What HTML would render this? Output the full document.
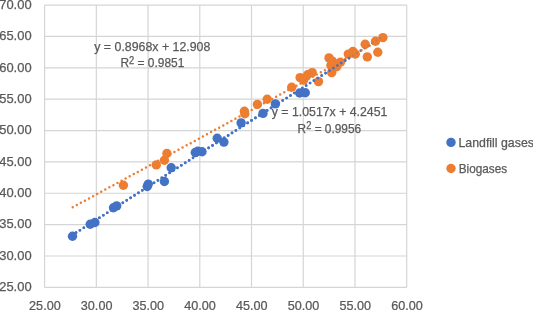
<!DOCTYPE html>
<html><head><meta charset="utf-8"><title>Chart</title>
<style>html,body{margin:0;padding:0;background:#fff;overflow:hidden}svg{display:block}text{font-family:"Liberation Sans",Arial,sans-serif;fill:#595959;stroke:#595959;stroke-width:0.25px}</style></head><body>
<svg width="533" height="310" viewBox="0 0 533 310">
<rect width="533" height="310" fill="#fff"/>
<g stroke="#d5d5d5" stroke-width="1.2" fill="none">
<line x1="44.60" y1="5.10" x2="44.60" y2="287.35"/>
<line x1="96.33" y1="5.10" x2="96.33" y2="287.35"/>
<line x1="148.06" y1="5.10" x2="148.06" y2="287.35"/>
<line x1="199.79" y1="5.10" x2="199.79" y2="287.35"/>
<line x1="251.51" y1="5.10" x2="251.51" y2="287.35"/>
<line x1="303.24" y1="5.10" x2="303.24" y2="287.35"/>
<line x1="354.97" y1="5.10" x2="354.97" y2="287.35"/>
<line x1="406.70" y1="5.10" x2="406.70" y2="287.35"/>
<line x1="44.60" y1="5.10" x2="406.70" y2="5.10"/>
<line x1="44.60" y1="36.46" x2="406.70" y2="36.46"/>
<line x1="44.60" y1="67.82" x2="406.70" y2="67.82"/>
<line x1="44.60" y1="99.18" x2="406.70" y2="99.18"/>
<line x1="44.60" y1="130.54" x2="406.70" y2="130.54"/>
<line x1="44.60" y1="161.91" x2="406.70" y2="161.91"/>
<line x1="44.60" y1="193.27" x2="406.70" y2="193.27"/>
<line x1="44.60" y1="224.63" x2="406.70" y2="224.63"/>
<line x1="44.60" y1="255.99" x2="406.70" y2="255.99"/>
<line x1="44.60" y1="287.35" x2="406.70" y2="287.35"/>
</g>
<g fill="#4472c4"><circle cx="72.5" cy="236.2" r="4.7"/><circle cx="90.2" cy="224.3" r="4.7"/><circle cx="94.9" cy="222.5" r="4.7"/><circle cx="113.5" cy="207.7" r="4.7"/><circle cx="116.7" cy="205.9" r="4.7"/><circle cx="147.2" cy="186.5" r="4.7"/><circle cx="148.3" cy="184.1" r="4.7"/><circle cx="164.4" cy="181.5" r="4.7"/><circle cx="171.2" cy="167.7" r="4.7"/><circle cx="195.3" cy="152.5" r="4.7"/><circle cx="197.8" cy="151.3" r="4.7"/><circle cx="202.0" cy="151.8" r="4.7"/><circle cx="217.2" cy="138.2" r="4.7"/><circle cx="223.9" cy="142.1" r="4.7"/><circle cx="241.1" cy="122.9" r="4.7"/><circle cx="263.0" cy="113.4" r="4.7"/><circle cx="275.4" cy="103.9" r="4.7"/><circle cx="299.7" cy="93.0" r="4.7"/><circle cx="305.3" cy="92.8" r="4.7"/></g>
<line x1="72.12" y1="235.22" x2="382.90" y2="36.41" stroke="#4472c4" stroke-width="2.7" stroke-linecap="round" stroke-dasharray="0 4.63"/>
<g fill="#ed7d31"><circle cx="123.4" cy="185.3" r="4.7"/><circle cx="156.3" cy="164.9" r="4.7"/><circle cx="164.4" cy="160.2" r="4.7"/><circle cx="166.9" cy="153.5" r="4.7"/><circle cx="244.4" cy="111.3" r="4.7"/><circle cx="244.8" cy="113.8" r="4.7"/><circle cx="257.4" cy="104.4" r="4.7"/><circle cx="267.2" cy="99.2" r="4.7"/><circle cx="291.7" cy="87.2" r="4.7"/><circle cx="300.1" cy="77.6" r="4.7"/><circle cx="303.6" cy="80.1" r="4.7"/><circle cx="307.7" cy="74.7" r="4.7"/><circle cx="312.2" cy="72.6" r="4.7"/><circle cx="318.5" cy="81.6" r="4.7"/><circle cx="329.0" cy="57.9" r="4.7"/><circle cx="332.5" cy="61.3" r="4.7"/><circle cx="330.9" cy="65.3" r="4.7"/><circle cx="331.7" cy="72.6" r="4.7"/><circle cx="336.7" cy="66.8" r="4.7"/><circle cx="340.4" cy="62.3" r="4.7"/><circle cx="348.3" cy="54.1" r="4.7"/><circle cx="352.9" cy="51.5" r="4.7"/><circle cx="355.3" cy="54.0" r="4.7"/><circle cx="365.2" cy="44.2" r="4.7"/><circle cx="367.3" cy="56.9" r="4.7"/><circle cx="375.5" cy="41.3" r="4.7"/><circle cx="377.8" cy="52.3" r="4.7"/><circle cx="382.9" cy="37.6" r="4.7"/></g>
<line x1="72.74" y1="207.27" x2="382.90" y2="38.64" stroke="#ed7d31" stroke-width="2.5" stroke-linecap="round" stroke-dasharray="0 4.63"/>
<clipPath id="c"><rect x="0" y="0" width="350" height="310"/></clipPath>
<line x1="72.12" y1="235.22" x2="382.90" y2="36.41" stroke="#4472c4" stroke-width="2.7" stroke-linecap="round" stroke-dasharray="0 4.63" clip-path="url(#c)"/>
<line x1="72.12" y1="235.22" x2="382.90" y2="36.41" stroke="#4472c4" stroke-width="2.7" stroke-linecap="round" stroke-dasharray="0 4.63" opacity="0.18"/>
<g font-size="12.8">
<text x="31.6" y="8.80" text-anchor="end" textLength="32.4" lengthAdjust="spacingAndGlyphs">70.00</text>
<text x="31.6" y="40.16" text-anchor="end" textLength="32.4" lengthAdjust="spacingAndGlyphs">65.00</text>
<text x="31.6" y="71.52" text-anchor="end" textLength="32.4" lengthAdjust="spacingAndGlyphs">60.00</text>
<text x="31.6" y="102.88" text-anchor="end" textLength="32.4" lengthAdjust="spacingAndGlyphs">55.00</text>
<text x="31.6" y="134.24" text-anchor="end" textLength="32.4" lengthAdjust="spacingAndGlyphs">50.00</text>
<text x="31.6" y="165.61" text-anchor="end" textLength="32.4" lengthAdjust="spacingAndGlyphs">45.00</text>
<text x="31.6" y="196.97" text-anchor="end" textLength="32.4" lengthAdjust="spacingAndGlyphs">40.00</text>
<text x="31.6" y="228.33" text-anchor="end" textLength="32.4" lengthAdjust="spacingAndGlyphs">35.00</text>
<text x="31.6" y="259.69" text-anchor="end" textLength="32.4" lengthAdjust="spacingAndGlyphs">30.00</text>
<text x="31.6" y="291.05" text-anchor="end" textLength="32.4" lengthAdjust="spacingAndGlyphs">25.00</text>
<text x="44.90" y="310.2" text-anchor="middle" textLength="31.6" lengthAdjust="spacingAndGlyphs">25.00</text>
<text x="96.63" y="310.2" text-anchor="middle" textLength="31.6" lengthAdjust="spacingAndGlyphs">30.00</text>
<text x="148.36" y="310.2" text-anchor="middle" textLength="31.6" lengthAdjust="spacingAndGlyphs">35.00</text>
<text x="200.09" y="310.2" text-anchor="middle" textLength="31.6" lengthAdjust="spacingAndGlyphs">40.00</text>
<text x="251.81" y="310.2" text-anchor="middle" textLength="31.6" lengthAdjust="spacingAndGlyphs">45.00</text>
<text x="303.54" y="310.2" text-anchor="middle" textLength="31.6" lengthAdjust="spacingAndGlyphs">50.00</text>
<text x="355.27" y="310.2" text-anchor="middle" textLength="31.6" lengthAdjust="spacingAndGlyphs">55.00</text>
<text x="407.00" y="310.2" text-anchor="middle" textLength="31.6" lengthAdjust="spacingAndGlyphs">60.00</text>
</g>
<g font-size="12.8" text-anchor="middle">
<text x="152.3" y="50.5" textLength="116.1" lengthAdjust="spacingAndGlyphs">y = 0.8968x + 12.908</text>
<text x="152.4" y="67.4" textLength="63.8" lengthAdjust="spacingAndGlyphs">R<tspan dy="-3.7" font-size="10">2</tspan><tspan dy="3.7"> = 0.9851</tspan></text>
<text x="329.6" y="116" textLength="115.6" lengthAdjust="spacingAndGlyphs">y = 1.0517x + 4.2451</text>
<text x="329.4" y="133.0" textLength="63.6" lengthAdjust="spacingAndGlyphs">R<tspan dy="-3.7" font-size="10">2</tspan><tspan dy="3.7"> = 0.9956</tspan></text>
</g>
<circle cx="451" cy="142.4" r="4.7" fill="#4472c4"/>
<circle cx="451" cy="168.5" r="4.7" fill="#ed7d31"/>
<g font-size="12.2">
<text x="458.5" y="146.8" textLength="75.4" lengthAdjust="spacingAndGlyphs">Landfill gases</text>
<text x="458.7" y="173.2" textLength="48.4" lengthAdjust="spacingAndGlyphs">Biogases</text>
</g>
</svg></body></html>
